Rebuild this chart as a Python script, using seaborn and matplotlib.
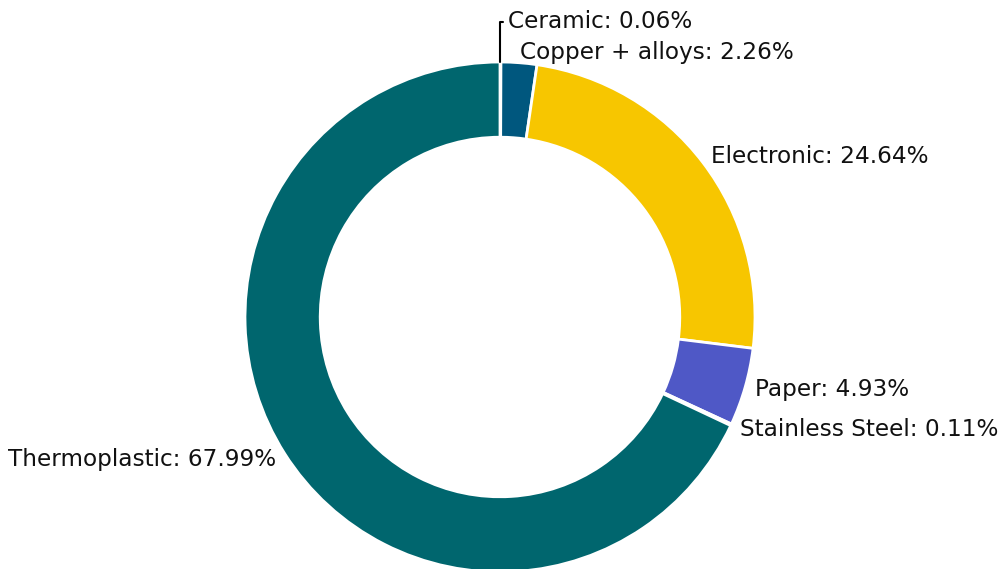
import matplotlib
matplotlib.use("Agg")
import matplotlib.pyplot as plt
import seaborn as sns
import numpy as np

categories = ["Ceramic", "Copper + alloys", "Electronic", "Paper", "Stainless Steel", "Thermoplastic"]
values = [0.06, 2.26, 24.64, 4.93, 0.11, 67.99]
colors = ["#8a8a8a", "#00577e", "#f7c600", "#4f58c6", "#a9b4bd", "#00666e"]

sns.set_style("white")
plt.rcParams["font.family"] = ["DejaVu Sans"]

fig = plt.figure(figsize=(10.02, 5.69), dpi=100)
ax = fig.add_axes([0, 0, 1, 1])

labels = [f"{c}: {v:.2f}%" for c, v in zip(categories, values)]
pie_labels = ["" if c == "Ceramic" else l for c, l in zip(categories, labels)]

wedges, texts = ax.pie(values, labels=pie_labels, colors=colors, startangle=90,
                       counterclock=False, labeldistance=1.04, radius=1.0,
                       wedgeprops=dict(width=0.295, edgecolor="white", linewidth=2),
                       textprops=dict(fontsize=16.7, color="#111111"))

# Ceramic annotation with leader line
total = sum(values)
mid = 90 - (values[0] / 2) / total * 360
xa, ya = np.cos(np.radians(mid)), np.sin(np.radians(mid))
ax.annotate(labels[0], xy=(xa, ya), xytext=(0.03, 1.157), fontsize=16.7, color="#111111",
            ha="left", va="center",
            arrowprops=dict(arrowstyle="-", color="black", lw=1.5, shrinkA=1, shrinkB=0,
                            connectionstyle="angle,angleA=0,angleB=90,rad=0"))

cx, cy, r = 500, 317, 255
ax.set_xlim((0 - cx) / r, (1002 - cx) / r)
ax.set_ylim(-(569 - cy) / r, cy / r)
ax.set_aspect("auto")
ax.axis("off")

fig.savefig("out.png", dpi=100)
